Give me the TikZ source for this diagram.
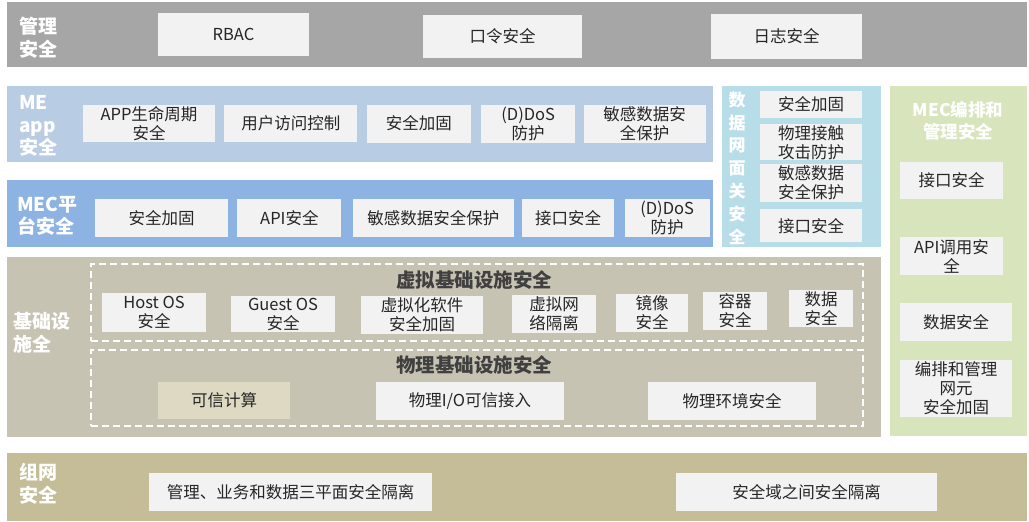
\documentclass[tikz,border=0pt]{standalone}
\usepackage{fontspec}
\setmainfont{Noto Sans CJK SC}
\usepackage{xcolor}
\usetikzlibrary{positioning}
\definecolor{mgmtgray}{HTML}{A6A6A6}
\definecolor{appblue}{HTML}{B8CCE4}
\definecolor{platblue}{HTML}{8DB3E2}
\definecolor{gwcyan}{HTML}{B7DDE8}
\definecolor{manogreen}{HTML}{D7E4BC}
\definecolor{infragray}{HTML}{C7C3B3}
\definecolor{netkhaki}{HTML}{C4BD97}
\definecolor{boxwhite}{HTML}{F2F2F2}
\definecolor{trustfill}{HTML}{DDD9C3}
\definecolor{titlegray}{HTML}{404040}

\begin{document}
\begin{tikzpicture}[x=1pt,y=-1pt,
  band/.style={draw=none,inner sep=0pt},
  item/.style={fill=boxwhite,inner sep=0pt,align=center,font=\fontsize{16.5}{19}\selectfont,text=black!85},
  side/.style={align=left,anchor=west,inner sep=0pt,text=white,font=\fontsize{19}{22.5}\selectfont\bfseries},
  zone/.style={draw=white,line width=1.5pt,dash pattern=on 7pt off 4pt,inner sep=0pt},
  zonetitle/.style={inner sep=0pt,text=titlegray,font=\fontsize{19.5}{22}\selectfont\bfseries}]
  \useasboundingbox (0,0) rectangle (1029,522);

  % management layer
  \node[band,fill=mgmtgray,minimum width=1020pt,minimum height=65pt] (mgmt) at (517,34.5) {};
  \node[side] (mgmtlbl) at (19,38) {管理\\安全};
  \node[item,minimum width=151pt,minimum height=43pt] (rbac) at (233.5,34.5) {RBAC};
  \node[item,minimum width=159pt,minimum height=43pt] (pwd) at (502.5,36.5) {口令安全};
  \node[item,minimum width=151pt,minimum height=45pt] (log) at (786.5,36.5) {日志安全};

  % ME app layer
  \node[band,fill=appblue,minimum width=706pt,minimum height=76pt] (meapp) at (360,124) {};
  \node[side] (meapplbl) at (19,126) {ME\\app\\安全};
  \node[item,minimum width=132pt,minimum height=37pt] (app1) at (149,123.5) {APP生命周期\\安全};
  \node[item,minimum width=133pt,minimum height=37pt] (app2) [right=9pt of app1] {用户访问控制};
  \node[item,minimum width=104pt,minimum height=38pt] (app3) [right=9pt of app2] {安全加固};
  \node[item,minimum width=94pt,minimum height=38pt] (app4) [right=10pt of app3] {(D)DoS\\防护};
  \node[item,minimum width=122pt,minimum height=38pt] (app5) [right=8pt of app4] {敏感数据安\\全保护};

  % MEC platform layer
  \node[band,fill=platblue,minimum width=706pt,minimum height=67pt] (mecp) at (360,213.5) {};
  \node[side] (mecplbl) at (17,216) {MEC平\\台安全};
  \node[item,minimum width=133pt,minimum height=38pt] (plat1) at (161.5,218) {安全加固};
  \node[item,minimum width=104pt,minimum height=38pt] (plat2) [right=9pt of plat1] {API安全};
  \node[item,minimum width=161pt,minimum height=38pt] (plat3) [right=11pt of plat2] {敏感数据安全保护};
  \node[item,minimum width=92pt,minimum height=38pt] (plat4) [right=8pt of plat3] {接口安全};
  \node[item,minimum width=85pt,minimum height=38pt] (plat5) [right=10pt of plat4] {(D)DoS\\防护};

  % data gateway
  \node[band,fill=gwcyan,minimum width=159pt,minimum height=161pt] (gw) at (801.5,166.5) {};
  \node[inner sep=0pt,align=center,text=white,font=\fontsize{17}{22.8}\selectfont\bfseries] (gwlbl) at (737,168) {数\\据\\网\\面\\关\\安\\全};
  \node[item,minimum width=102pt,minimum height=27pt] (gw1) at (811,104.5) {安全加固};
  \node[item,minimum width=102pt,minimum height=36pt] (gw2) [below=6pt of gw1] {物理接触\\攻击防护};
  \node[item,minimum width=102pt,minimum height=38pt] (gw3) [below=3pt of gw2] {敏感数据\\安全保护};
  \node[item,minimum width=102pt,minimum height=33pt] (gw4) [below=7pt of gw3] {接口安全};

  % MEC orchestration and management
  \node[band,fill=manogreen,minimum width=137pt,minimum height=350pt] (mano) at (958.5,261) {};
  \node[inner sep=0pt,align=center,text=white,font=\fontsize{17.5}{22}\selectfont\bfseries] (manolbl) at (958,121) {MEC编排和\\管理安全};
  \node[item,minimum width=103pt,minimum height=37pt] (mano1) at (951.5,180.5) {接口安全};
  \node[item,minimum width=103pt,minimum height=38pt] (mano2) at (951.5,256) {API调用安\\全};
  \node[item,minimum width=112pt,minimum height=38pt] (mano3) at (956,322) {数据安全};
  \node[item,minimum width=112pt,minimum height=57pt] (mano4) at (956,388.5) {编排和管理\\网元\\安全加固};

  % infrastructure layer
  \node[band,fill=infragray,minimum width=874pt,minimum height=180pt] (infra) at (444,347) {};
  \node[side] (infralbl) at (13,333) {基础设\\施全};
  \node[zone,minimum width=772pt,minimum height=77pt] (virt) at (477,302.5) {};
  \node[zonetitle] (virttitle) at (474,280) {虚拟基础设施安全};
  \node[item,minimum width=104pt,minimum height=39pt] (v1) at (154,312.5) {Host OS\\安全};
  \node[item,minimum width=104pt,minimum height=36pt] (v2) at (283,314) {Guest OS\\安全};
  \node[item,minimum width=122pt,minimum height=38pt] (v3) at (422,315) {虚拟化软件\\安全加固};
  \node[item,minimum width=84pt,minimum height=38pt] (v4) at (554,314) {虚拟网\\络隔离};
  \node[item,minimum width=72pt,minimum height=38pt] (v5) at (652,313) {镜像\\安全};
  \node[item,minimum width=64pt,minimum height=38pt] (v6) at (735,311) {容器\\安全};
  \node[item,minimum width=64pt,minimum height=37pt] (v7) at (821,308.5) {数据\\安全};
  \node[zone,minimum width=772pt,minimum height=76pt] (phys) at (477,388) {};
  \node[zonetitle] (phystitle) at (474,365) {物理基础设施安全};
  \node[item,fill=trustfill,minimum width=132pt,minimum height=37pt] (ph1) at (224,400.5) {可信计算};
  \node[item,minimum width=188pt,minimum height=38pt] (ph2) at (470,401) {物理I/O可信接入};
  \node[item,minimum width=168pt,minimum height=38pt] (ph3) at (732,401) {物理环境安全};

  % networking layer
  \node[band,fill=netkhaki,minimum width=1020pt,minimum height=68pt] (net) at (517,487) {};
  \node[side] (netlbl) at (19,484) {组网\\安全};
  \node[item,minimum width=283pt,minimum height=38pt] (net1) at (290.5,492) {管理、业务和数据三平面安全隔离};
  \node[item,minimum width=261pt,minimum height=38pt] (net2) at (806.5,492) {安全域之间安全隔离};
\end{tikzpicture}
\end{document}
